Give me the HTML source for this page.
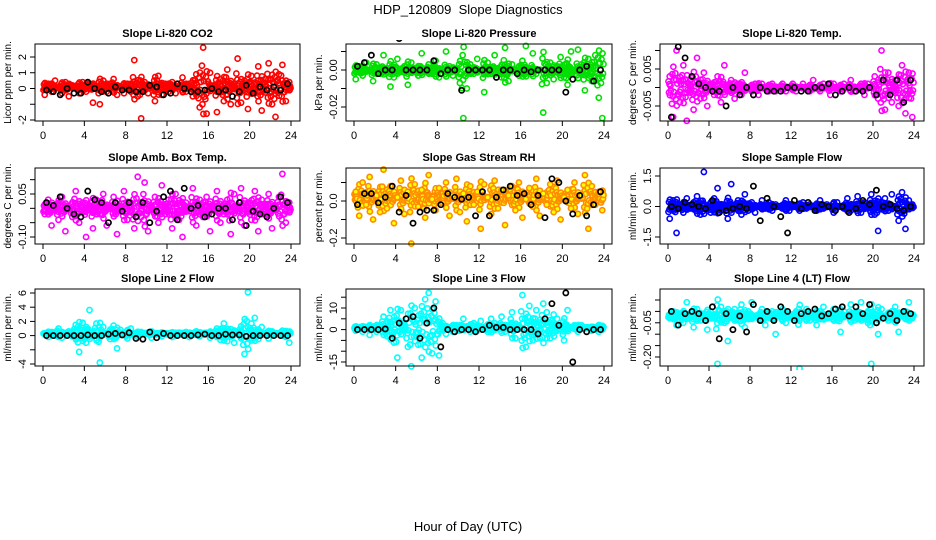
<!DOCTYPE html>
<html><head><meta charset="utf-8">
<style>
html,body{margin:0;padding:0;background:#fff;}
svg{display:block;font-family:"Liberation Sans",sans-serif;}
</style></head>
<body>
<svg id="chart" width="936" height="540" viewBox="0 0 936 540">
<text x="468" y="14" text-anchor="middle" font-size="13" xml:space="preserve">HDP_120809  Slope Diagnostics</text>
<text x="468" y="531" text-anchor="middle" font-size="13">Hour of Day (UTC)</text>
</svg>
<script>
const xTicks = [0,4,8,12,16,20,24];
const titles = ["Slope Li-820 CO2","Slope Li-820 Pressure","Slope Li-820 Temp.","Slope Amb. Box Temp.","Slope Gas Stream RH","Slope Sample Flow","Slope Line 2 Flow","Slope Line 3 Flow","Slope Line 4 (LT) Flow"];
const yTitles = ["Licor ppm per min.","kPa per min.","degrees C per min.","degrees C per min.","percent per min.","ml/min per min.","ml/min per min.","ml/min per min.","ml/min per min."];
const yTickVals = [[2,1,0,-1,-2],[0.01,0,-0.01,-0.02],[0.01,0.005,0,-0.005],[0.10,0.05,0,-0.05,-0.10],[0.1,0,-0.1,-0.2],[1.5,0,-1.5],[6,4,2,0,-2,-4],[15,10,5,0,-5,-10,-15],[0.05,0,-0.05,-0.10,-0.15,-0.20]];
const yTickLabels = [["2","1","0","","-2"],["","0.00","","-0.02"],["","0.005","","-0.005"],["","0.05","","","-0.10"],["","0.0","","-0.2"],["1.5","0.0","-1.5"],["6","4","2","0","","-4"],["","10","","0","","","-15"],["","","-0.05","","","-0.20"]];

const co2 = [-0.4,0.3,-0.2,0.5,0.1,-0.3,0.4,-0.5,0.2,0.0,-0.3,0.4,-0.2,0.3,-0.9,0.1,-1.0,0.5,-0.2,0.3,0.6,-0.4,0.1,-0.3,0.3,-0.2,1.8,-0.5,-1.9,0.4,-0.3,0.2,-0.8,0.8,-0.4,0.3,-0.2,0.4,-0.3,0.1,0.7,-0.2,0.3,-0.5,0.9,-1.2,2.6,-1.6,1.0,0.2,-1.5,0.6,-0.8,1.2,-1.0,0.3,1.9,-0.9,0.5,-1.3,0.8,-0.3,1.4,-1.4,0.6,1.6,-1.0,-1.8,0.9,1.5,-0.8,0.4];
const co2Black = [-0.1,-0.2,-0.4,0,-0.3,-0.3,0.4,0.0,-0.2,-0.3,0.1,-0.1,-0.1,-0.2,-0.2,0.2,0.1,-0.4,-0.3,0.3,0,-0.2,-0.2,-0.1,0,-0.2,-0.1,-0.5,-0.2,0.2,-0.3,0.1,-0.1,0.1,-0.1,0.3];
const press = [-0.005,0.002,-0.003,0.004,0.000,-0.006,0.003,-0.002,0.008,0.001,-0.009,-0.004,0.006,-0.001,0.002,-0.008,0.004,0.001,-0.003,0.009,-0.001,0.003,-0.002,0.005,-0.004,0.000,0.010,0.002,-0.003,-0.001,-0.007,-0.026,-0.010,0.003,-0.002,0.006,0.000,-0.012,0.004,-0.002,0.008,0.001,-0.004,0.012,-0.006,0.003,0.000,-0.003,0.005,0.013,-0.001,0.009,-0.002,0.000,-0.023,-0.007,0.004,-0.005,0.002,0.007,-0.004,-0.008,0.010,0.000,0.011,0.003,-0.011,0.006,-0.006,0.008,-0.015,-0.026];
const pressBlack = [0.002,0.004,0.008,-0.002,0.000,0.000,0.017,0.000,0.000,0.000,0.000,0.005,-0.002,0.000,0.000,-0.011,0.000,0.000,0.000,0.000,-0.004,0.000,0.000,-0.002,0.000,-0.001,0.000,0.000,0.000,0.000,-0.012,-0.005,0.000,0.002,-0.006,0.000];
const ltemp = [0.003,-0.008,0.010,-0.004,0.006,-0.009,0.002,-0.006,0.008,-0.003,0.004,-0.005,0.001,-0.002,0.003,-0.004,0.006,-0.001,0.002,-0.003,0.001,-0.002,0.004,0.000,-0.001,0.001,-0.002,0.001,0.000,-0.001,0.001,-0.001,0.000,0.001,-0.001,0.000,0.001,-0.001,0.000,0.001,0.000,-0.001,0.002,0.000,-0.001,0.001,0.000,-0.002,0.001,0.000,-0.001,0.001,0.000,0.002,-0.001,0.000,0.001,-0.002,0.001,0.000,0.003,-0.003,0.010,-0.006,0.004,-0.004,0.002,-0.005,0.006,-0.007,0.004,-0.008];
const ltempBlack = [-0.008,0.011,0.008,0.003,0.001,0.000,-0.001,-0.001,-0.005,0.000,-0.002,0.000,-0.002,0.000,-0.001,-0.001,-0.001,0.000,0.000,-0.001,-0.001,0.000,0.000,0.001,-0.002,-0.001,0.000,-0.001,-0.001,0.000,-0.002,0.002,-0.002,0.002,-0.004,0.002];
const btemp = [-0.02,0.03,-0.06,0.01,-0.04,0.04,-0.08,0.00,-0.03,0.06,-0.05,0.02,-0.10,0.01,-0.07,0.03,-0.02,0.05,-0.06,0.00,0.04,-0.09,-0.01,0.06,-0.04,0.02,-0.07,0.11,-0.03,0.09,-0.08,0.01,0.04,-0.05,0.08,-0.02,0.03,-0.07,0.05,-0.04,-0.10,0.02,-0.01,0.07,-0.06,0.03,-0.03,0.04,-0.08,0.01,0.06,-0.05,-0.02,0.03,-0.09,0.05,-0.01,0.07,-0.06,0.02,-0.04,0.06,-0.08,0.03,-0.02,0.05,-0.07,0.01,0.04,0.12,-0.05,0.02];
const btempBlack = [0.02,0.01,0.04,0.00,-0.02,-0.03,0.06,0.03,0.02,-0.05,0.02,-0.01,0.02,-0.03,0.02,-0.05,-0.01,0.04,0.06,-0.04,0.07,0.00,0.01,-0.03,-0.02,0.00,0.00,-0.04,0.02,-0.06,-0.01,-0.02,-0.03,0.00,0.04,0.02];
const rh = [0.05,-0.08,0.10,-0.02,0.13,-0.10,0.03,-0.06,0.17,-0.04,0.08,-0.12,0.02,0.11,-0.07,0.05,-0.23,0.09,-0.03,0.06,-0.09,0.14,0.01,-0.05,0.07,-0.01,0.10,-0.08,0.03,0.12,-0.06,0.04,-0.11,0.08,-0.02,0.05,-0.15,0.09,0.02,-0.07,0.11,-0.04,0.06,-0.13,0.03,0.08,-0.05,0.10,-0.09,0.01,0.07,-0.03,0.12,-0.08,0.04,-0.02,0.09,-0.06,0.11,-0.10,0.02,0.06,-0.04,0.10,-0.07,0.03,0.14,-0.15,0.08,-0.02,0.05,-0.05];
const rhBlack = [-0.02,0.04,0.04,-0.01,0.02,0.08,-0.06,0.03,-0.12,-0.06,-0.05,-0.05,-0.02,0.04,0.02,0.01,0.02,-0.08,0.05,-0.08,0.02,0.06,0.08,0.03,0.04,-0.02,0.03,-0.09,0.12,0.10,0.00,-0.07,0.03,-0.08,-0.02,0.05];
const sflow = [-0.6,0.3,-1.3,0.1,-0.3,0.4,-0.1,0.2,0.5,-0.4,1.7,0.0,-0.3,0.4,0.9,-0.2,0.1,-0.6,1.1,-0.1,0.3,-0.4,0.6,-0.2,0.2,-0.3,0.0,0.3,-0.1,0.2,-0.2,0.1,0.0,-0.1,0.3,-0.2,0.1,0.0,-0.2,0.2,-0.1,0.1,0.0,-0.2,0.3,-0.1,0.1,0.0,-0.3,0.2,0.0,-0.1,0.4,-0.2,0.1,0.5,-0.3,0.2,-0.1,0.6,-0.4,-1.2,0.2,0.4,-0.2,0.6,0.0,-0.7,0.7,-1.1,0.3,0.1];
const sflowBlack = [0.0,-0.1,0.2,0.1,0.0,-0.1,0.3,-0.3,-0.2,-0.1,0.0,-0.1,1.0,-0.7,0.4,0.0,-0.5,-1.3,0.3,-0.1,0.2,-0.2,0.1,0.0,-0.2,0.0,-0.3,-0.1,0.3,0.1,0.8,0.0,0.1,-0.1,-0.2,0.0];
const l2 = [0.3,-0.2,0.5,0.0,1.0,-0.3,0.2,0.6,-0.1,1.5,-2.3,1.8,-1.0,3.6,0.4,1.7,-3.8,1.2,0.3,-0.5,1.4,-1.8,0.8,0.2,-0.4,1.0,0.3,-0.2,0.5,0.2,0.4,-0.3,0.1,0.3,-0.1,0.2,0.3,-0.2,0.4,0.1,0.2,0.5,-0.2,0.3,0.6,-0.1,0.2,0.4,-0.3,0.1,1.0,-0.6,1.7,-0.8,0.9,-1.0,0.5,1.3,-2.6,6.1,1.7,2.5,-0.5,1.2,0.3,-0.4,0.6,0.1,0.3,0.7,-0.2,-1.0];
const l2Black = [0,0,0,0,0,0,0.1,0,0,0.2,0.3,0.1,0.4,-0.4,-0.5,0.5,-0.3,0.3,0,0,0,0,0.1,0.2,0,0,0.2,0.1,0.1,-0.1,0,0,0,0,0,0];
const l3 = [-0.5,0.8,-1.0,1.2,-2.5,0.5,-1.0,2.0,6.0,-3.0,9.0,-6.0,-13.0,9.0,3.0,-8.0,-17.0,10.0,-7.0,-13.0,14.0,17.0,-11.0,13.0,-12.0,3.0,-2.0,1.0,-1.0,2.0,-0.5,5.0,1.5,-1.0,3.0,-0.5,4.0,1.0,-1.0,5.0,3.0,2.0,6.0,-1.0,2.0,8.0,-4.0,2.0,16.0,-8.0,11.0,-5.0,9.0,-4.0,12.0,8.0,-4.0,7.0,5.0,2.0,-5.0,9.0,1.0,2.0,-1.0,2.0,0.5,1.0,-0.5,1.0,-1.0,0.0];
const l3Black = [0,0,0,0,0.3,-4.0,3.0,5.0,6.0,-4.0,3.0,10.0,-8.0,0,-1.0,0,0,-1.0,0,2.0,1.0,1.0,0,0,0,0,-2.0,5.0,12.0,2.0,17.0,-15.0,0,-1.0,0,0];
const l4 = [-0.03,0.00,-0.06,-0.01,-0.05,0.04,-0.02,-0.07,0.01,-0.04,-0.01,-0.08,0.00,-0.03,-0.23,0.02,-0.05,-0.13,-0.01,0.01,-0.04,0.03,-0.07,0.00,0.04,-0.02,-0.03,0.01,-0.06,-0.01,0.00,-0.10,-0.02,0.01,-0.05,-0.01,-0.03,0.00,-0.25,-0.02,0.01,-0.04,-0.01,-0.06,0.00,0.02,-0.03,-0.01,0.01,-0.04,-0.09,0.00,-0.02,0.03,-0.04,0.00,0.04,-0.03,-0.05,-0.23,-0.01,-0.10,0.01,-0.02,-0.04,0.00,0.02,-0.09,-0.02,0.00,0.04,-0.03];
const l4Black = [0.00,-0.06,-0.01,0.00,-0.01,-0.04,0.02,-0.12,-0.01,-0.08,-0.02,-0.09,0.03,-0.04,0.00,-0.04,0.02,0.00,-0.04,-0.01,0.00,0.01,-0.02,-0.01,0.01,0.02,-0.02,0.02,-0.01,0.03,-0.05,-0.03,-0.01,-0.04,0.00,-0.01];

const seriesColored = [co2,press,ltemp,btemp,rh,sflow,l2,l3,l4];
const seriesBlack = [co2Black,pressBlack,ltempBlack,btempBlack,rhBlack,sflowBlack,l2Black,l3Black,l4Black];
const colors = ["#ff0000","#00e000","#ff00ff","#ff00ff","#ff8c00","#0000ff","#00ffff","#00ffff","#00ffff"];
const fills = ["none","none","none","none","#ffff00","none","none","none","none"];
const cols = [{l:35,r:300,x0:43,x24:291},{l:346,r:612,x0:354,x24:604},{l:660,r:924,x0:668,x24:914}];
const rows = [{t:44,b:121},{t:168,b:244},{t:289,b:366}];
const yRef = [[2,57,-2,120],[0,70,-0.02,107],[0.005,69,-0.005,106],[0.05,194,-0.10,237],[0,201,-0.2,238],[1.5,176,-1.5,237],[6,293,-4,364],[10,308,-15,362],[0.05,300,-0.20,357]];
const NS = "http://www.w3.org/2000/svg";
const svg = document.getElementById('chart');
function mk(tag, attrs, parent){const e=document.createElementNS(NS,tag);for(const k in attrs)e.setAttribute(k,attrs[k]);(parent||svg).appendChild(e);return e;}
function median(a){const s=a.slice().sort((x,y)=>x-y);return s[Math.floor(s.length/2)];}
const fillFactors=[0.55,-0.45,0.3,-0.7,0.15,-0.25];

for(let p=0;p<9;p++){
  const c=cols[p%3], r=rows[Math.floor(p/3)];
  const g=mk('g',{});
  
  
  const xs=h=>c.x0+(c.x24-c.x0)*h/24;
  const [v0,p0,v1,p1]=yRef[p];
  const ys=v=>p0+(v-v0)*(p1-p0)/(v1-v0);
  const cx=(c.l+c.r)/2;
  const t=mk('text',{x:cx,y:r.t-7,'text-anchor':'middle','font-size':11,'font-weight':'bold'},g);
  t.textContent=titles[p];
  
  
  const yt=mk('text',{x:0,y:0,'text-anchor':'middle','font-size':10,transform:`translate(${c.l-24},${(r.t+r.b)/2}) rotate(-90)`},g);
  yt.textContent=yTitles[p];
  
  
  const cp=mk('clipPath',{id:'cp'+p},g);
  mk('rect',{x:c.l-3,y:r.t-4,width:c.r-c.l+6,height:r.b-r.t+8},cp);
  const pts=mk('g',{'clip-path':`url(#cp${p})`},g);
  
  
  const col=seriesColored[p];
  const ctr=median(col);
  const n=col.length;
  col.forEach((v,i)=>{
    const dev=Math.min(Math.abs(v-ctr), Math.abs(col[(i+1)%n]-ctr)+Math.abs(v-ctr)*0.3);
    fillFactors.forEach((f,k)=>{
      const h=(i+0.5+(k+1)/(fillFactors.length+1)-0.5)*24/n;
      const m=mk('circle',{cx:xs(h),cy:ys(ctr+dev*f*(v>=ctr?1:-1)),r:2.6,fill:fills[p],stroke:colors[p],'stroke-width':1.6},pts);
      
      
    });
  });
  col.forEach((v,i)=>{
    const h=(i+0.5)*24/n;
    const m=mk('circle',{cx:xs(h),cy:ys(v),r:2.6,fill:fills[p],stroke:colors[p],'stroke-width':1.6},pts);
    
    
  });
  const bl=seriesBlack[p];
  bl.forEach((v,i)=>{
    const h=(i+0.5)*24/bl.length;
    const m=mk('circle',{cx:xs(h),cy:ys(v),r:2.6,fill:'none',stroke:'#000','stroke-width':1.7},pts);
    
    
  });
  const box=mk('rect',{x:c.l,y:r.t,width:c.r-c.l,height:r.b-r.t,fill:'none',stroke:'#000','stroke-width':1},g);
  
  
  const xa=mk('g',{},g);
  
  
  xTicks.forEach(tv=>{
    mk('line',{x1:xs(tv),x2:xs(tv),y1:r.b,y2:r.b+5,stroke:'#000'},xa);
    const tl=mk('text',{x:xs(tv),y:r.b+18,'text-anchor':'middle','font-size':11},xa);
    tl.textContent=tv;
  });
  const ya=mk('g',{},g);
  
  
  const tv=yTickVals[p];
  mk('line',{x1:c.l,x2:c.l,y1:Math.max(ys(tv[0]),r.t),y2:Math.min(ys(tv[tv.length-1]),r.b),stroke:'#000'},ya);
  tv.forEach((v,i)=>{
    const y=ys(v);
    if(y<r.t-1||y>r.b+1)return;
    mk('line',{x1:c.l-5,x2:c.l,y1:y,y2:y,stroke:'#000'},ya);
    const lab=yTickLabels[p][i];
    if(lab){
      const tl=mk('text',{x:0,y:0,'text-anchor':'middle','font-size':11,transform:`translate(${c.l-9},${y}) rotate(-90)`},ya);
      tl.textContent=lab;
    }
  });
}
</script>
</body></html>
